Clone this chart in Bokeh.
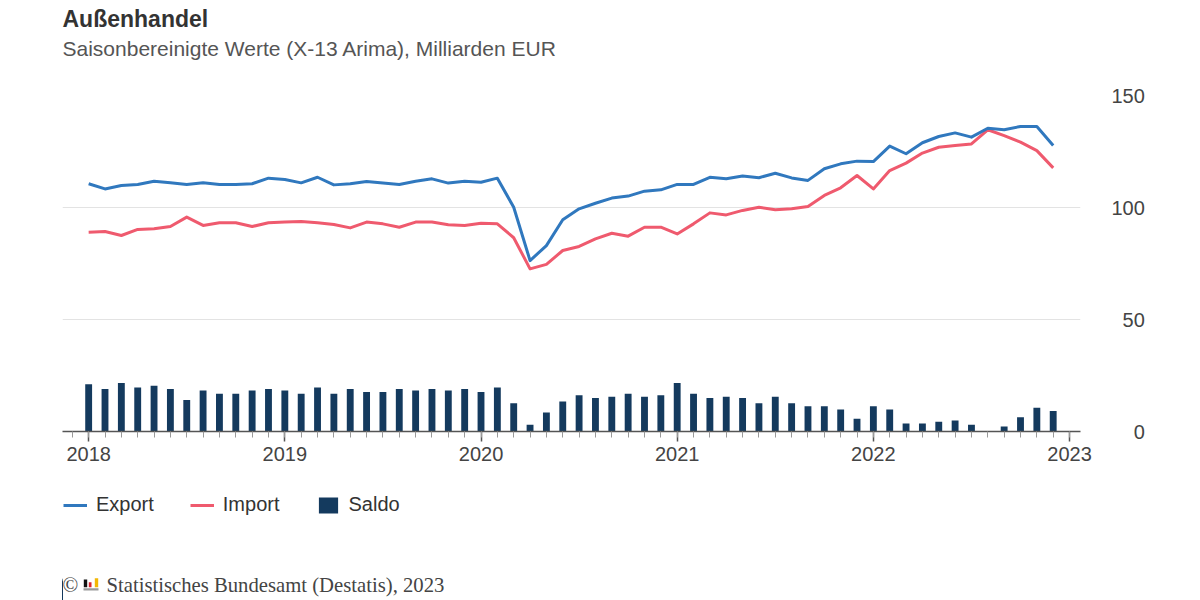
from bokeh.plotting import figure
from bokeh.layouts import column
from bokeh.models import (Range1d, FixedTicker, Legend, LegendItem, Title, Label,
                          BoxAnnotation)
from bokeh.embed import file_html
from bokeh.resources import INLINE

# ---------------- data (Jan 2018 .. Dec 2022, monthly) ----------------
years = ["2018", "2019", "2020", "2021", "2022", "2023"]
year_ticks = [0, 12, 24, 36, 48, 60]
month_ticks = list(range(-1, 61))

export_vals = [110.6, 108.3, 109.8, 110.3, 111.7, 111.0, 110.3, 111.0, 110.3, 110.3, 110.6, 113.1,
               112.5, 111.0, 113.5, 110.1, 110.6, 111.6, 110.9, 110.3, 111.7, 112.8, 110.9, 111.7,
               111.3, 113.1, 100.1, 76.3, 83.0, 94.5, 99.4, 101.9, 104.2, 105.1, 107.3, 107.9,
               110.3, 110.3, 113.5, 112.8, 114.1, 113.3, 115.3, 113.2, 112.1, 117.3, 119.5, 120.7,
               120.5, 127.4, 124.0, 128.9, 131.7, 133.3, 131.4, 135.4, 134.7, 136.2, 136.2, 127.7]

import_vals = [89.0, 89.3, 87.5, 90.2, 90.5, 91.5, 95.7, 92.0, 93.2, 93.2, 91.5, 93.2,
               93.5, 93.8, 93.2, 92.4, 90.9, 93.5, 92.7, 91.2, 93.5, 93.5, 92.3, 92.0,
               93.0, 92.7, 86.5, 72.6, 74.6, 80.8, 82.6, 86.0, 88.5, 87.2, 91.2, 91.2,
               88.2, 92.7, 97.6, 96.7, 98.7, 100.1, 99.0, 99.4, 100.4, 105.4, 108.8, 114.3,
               108.3, 116.5, 119.8, 124.3, 126.9, 127.7, 128.4, 134.7, 132.1, 129.2, 125.4, 117.7]

saldo_vals = [21.1, 19.0, 21.7, 19.6, 20.4, 19.0, 14.1, 18.3, 16.8, 16.8, 18.3, 19.0,
              18.3, 16.8, 19.6, 16.8, 19.0, 17.6, 17.6, 19.0, 18.3, 19.0, 18.3, 19.0,
              17.6, 19.6, 12.6, 3.0, 8.5, 13.4, 16.2, 14.9, 15.5, 16.8, 15.5, 16.2,
              21.7, 16.8, 14.9, 15.5, 14.9, 12.6, 15.5, 12.6, 11.3, 11.3, 9.8, 5.7,
              11.3, 9.8, 3.6, 3.6, 4.3, 4.9, 3.0, 0.0, 2.2, 6.4, 10.6, 9.2]

months = list(range(len(export_vals)))
y_ticks = [0, 50, 100, 150]
series_names = ["Export", "Import", "Saldo"]

FONT = "Liberation Sans"
SERIF = "Liberation Serif"
C_EXPORT = "#3078be"
C_IMPORT = "#ef5a6e"
C_SALDO = "#143a5e"

# ---------------- main chart ----------------
p = figure(frame_width=1018, frame_height=336,
           output_backend="svg", toolbar_location=None,
           x_range=Range1d(-1.6, 60.67), y_range=Range1d(0, 150),
           min_border_left=62, min_border_right=120, min_border_top=95,
           min_border_bottom=45, y_axis_location="right")
p.outline_line_color = None
p.background_fill_color = "white"
p.border_fill_color = "white"

p.xgrid.visible = False
p.ygrid.ticker = FixedTicker(ticks=[50, 100, 150])
p.ygrid.grid_line_color = "#e3e3e3"
p.ygrid.grid_line_width = 1

xa = p.xaxis[0]
xa.ticker = FixedTicker(ticks=year_ticks, minor_ticks=month_ticks)
xa.major_label_overrides = {t: y for t, y in zip(year_ticks, years)}
xa.axis_line_color = "#555555"
xa.axis_line_width = 1.5
xa.major_tick_in = 0
xa.major_tick_out = 10
xa.major_tick_line_color = "#555555"
xa.major_tick_line_width = 1.5
xa.minor_tick_in = 0
xa.minor_tick_out = 6
xa.minor_tick_line_color = "#999999"
xa.minor_tick_line_width = 1
xa.major_label_standoff = 5
xa.major_label_text_font = FONT
xa.major_label_text_font_size = "20px"
xa.major_label_text_color = "#444444"

ya = p.yaxis[0]
ya.ticker = FixedTicker(ticks=y_ticks)
ya.major_label_overrides = {0: "\u2007\u20070", 50: "\u200750"}
ya.axis_line_color = None
ya.major_tick_line_color = None
ya.minor_tick_line_color = None
ya.major_label_standoff = 25
ya.major_label_text_font = FONT
ya.major_label_text_font_size = "20px"
ya.major_label_text_color = "#444444"

p.vbar(x=months, top=saldo_vals, bottom=0, width=0.42, fill_color=C_SALDO, line_color=None)
p.line(months, import_vals, line_color=C_IMPORT, line_width=3, line_join="round")
p.line(months, export_vals, line_color=C_EXPORT, line_width=3, line_join="round")

# titles: spacer next to the plot, then subtitle, then main title
p.add_layout(Title(text="\u00a0", align="left", offset=0, standoff=31,
                   text_font=FONT, text_font_size="1px"), "above")
p.add_layout(Title(text="Saisonbereinigte Werte (X-13 Arima), Milliarden EUR",
                   align="left", offset=0, standoff=4,
                   text_font=FONT, text_font_size="21px", text_font_style="normal",
                   text_color="#555555"), "above")
p.add_layout(Title(text="Außenhandel", align="left", offset=0, standoff=2,
                   text_font=FONT, text_font_size="23px", text_font_style="bold",
                   text_color="#333333"), "above")

# ---------------- legend + source strip ----------------
# its frame is aligned with the chart frame above (pixel 62 .. 1080)
H2 = 124
q = figure(width=1200, height=H2, output_backend="svg", toolbar_location=None,
           x_range=Range1d(62, 1080), y_range=Range1d(0, H2), min_border=0,
           x_axis_location=None, y_axis_location=None)
q.outline_line_color = None
q.grid.visible = False
q.background_fill_color = "white"
q.border_fill_color = "white"

# legend keys: same series with the same styles (they fall outside this strip's range)
k_exp = q.line(months, export_vals, line_color=C_EXPORT, line_width=3)
k_imp = q.line(months, import_vals, line_color=C_IMPORT, line_width=3)
k_sal = q.vbar(x=months, top=saldo_vals, width=0.42, fill_color=C_SALDO, line_color=None)

legend = Legend(items=[LegendItem(label=n, renderers=[r])
                       for n, r in zip(series_names, [k_exp, k_imp, k_sal])],
                orientation="horizontal", location=(1, 84), padding=0, spacing=36,
                glyph_width=24, glyph_height=20, label_standoff=9,
                label_text_font=FONT, label_text_font_size="20px",
                label_text_color="#333333", border_line_color=None,
                background_fill_alpha=0, margin=0)
q.add_layout(legend)

q.add_layout(Label(x=62, y=16, text="©", text_font=SERIF, text_font_size="20.7px",
                   text_color="#444444", text_baseline="middle"))
q.add_layout(Label(x=106, y=16, text="Statistisches Bundesamt (Destatis), 2023",
                   text_font=SERIF, text_font_size="20.7px", text_color="#444444",
                   text_baseline="middle"))

# small Destatis logo next to the copyright sign
for l, r, t, b, c in [(83.3, 86.7, 21.0, 13.3, "#111111"),
                      (88.3, 91.0, 18.3, 13.3, "#d9232e"),
                      (94.3, 97.7, 22.3, 13.3, "#f2b705"),
                      (83.0, 98.0, 12.3, 10.0, "#9a9a9a")]:
    q.add_layout(BoxAnnotation(left=l, right=r, top=t, bottom=b,
                               fill_color=c, fill_alpha=1, line_color=None))

layout = column(p, q, spacing=0)
open("out.html", "w").write(file_html(layout, INLINE))
